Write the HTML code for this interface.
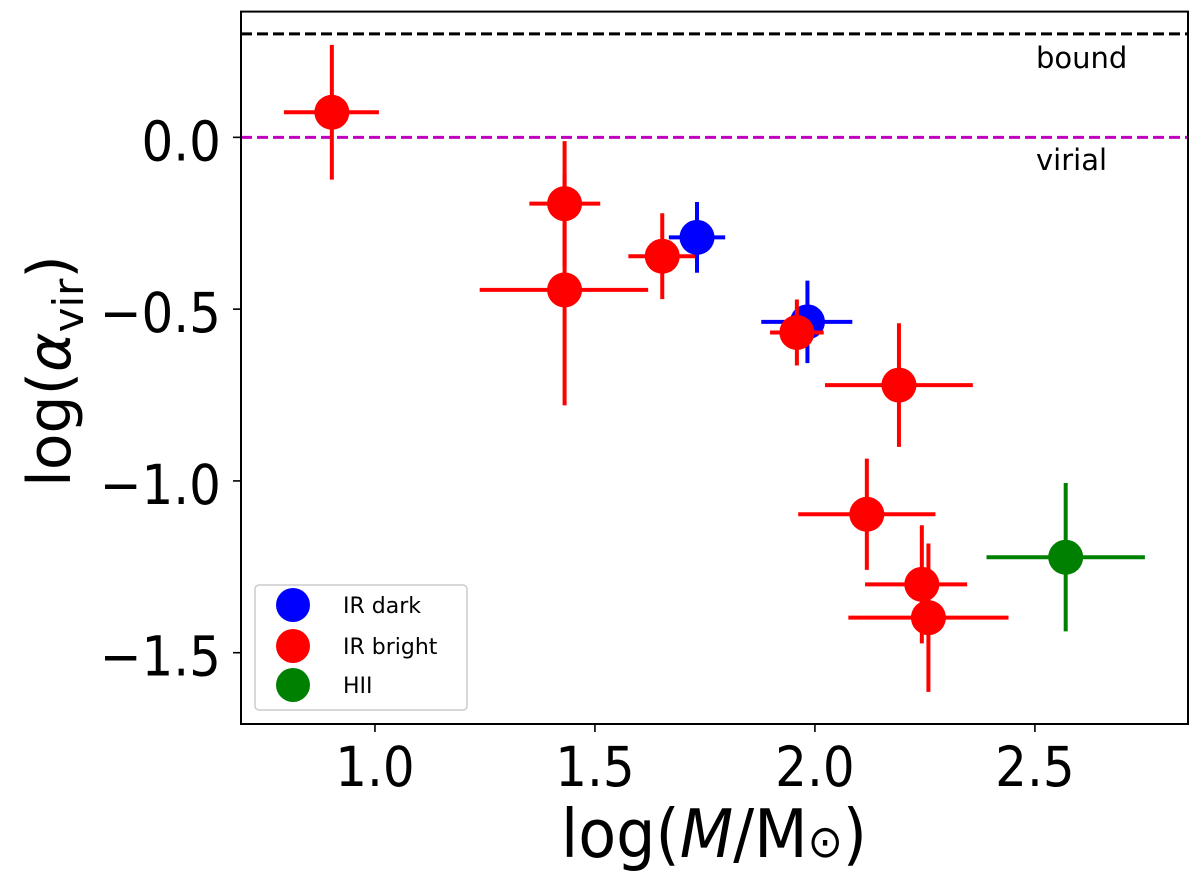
<!DOCTYPE html>
<html><head><meta charset="utf-8"><style>
html,body{margin:0;padding:0;background:#fff;width:1200px;height:876px;overflow:hidden}
svg{display:block;font-family:"DejaVu Sans","Liberation Sans",sans-serif}
</style></head><body>
<svg id="chart" width="1200" height="876" viewBox="0 0 1200 876" xmlns="http://www.w3.org/2000/svg">
<g id="lines"></g>
<g id="marks"></g>
<rect x="241" y="11.6" width="947" height="712.4" fill="none" stroke="#000" stroke-width="2"/>
<g id="axes"></g>
<text x="1036" y="68" font-size="29">bound</text>
<text x="1036" y="170" font-size="29">virial</text>
<text transform="translate(714,857) scale(1,1.08)" font-size="62" text-anchor="middle">log(<tspan font-style="italic">M</tspan>/M<tspan font-size="42">⊙</tspan>)</text>
<text transform="translate(70,371) rotate(-90)" font-size="60" text-anchor="middle">log(<tspan font-style="italic">α</tspan><tspan font-size="42" dy="13">vir</tspan><tspan dy="-13">)</tspan></text>
<g>
<rect x="255" y="585" width="212" height="125" rx="4" fill="#fff" stroke="#ccc" stroke-width="1.5"/>
<circle cx="293" cy="605" r="17" fill="#0000ff"/>
<text x="343" y="613" font-size="22">IR dark</text>
<circle cx="293" cy="646" r="17" fill="#ff0000"/>
<text x="343" y="654" font-size="22">IR bright</text>
<circle cx="293" cy="685" r="17" fill="#008000"/>
<text x="343" y="693" font-size="22">HII</text>
</g>
</svg>
<script>
const xTicks = [1.0, 1.5, 2.0, 2.5];
const xTickLabels = ["1.0", "1.5", "2.0", "2.5"];
const yTicks = [0.0, -0.5, -1.0, -1.5];
const yTickLabels = ["0.0", "\u22120.5", "\u22121.0", "\u22121.5"];
const refValues = [0.301, 0.0];
const refNames = ["bound-line", "virial-line"];
const refColors = ["#000000", "#bf00bf"];
const seriesNames = ["ir-bright","ir-bright","ir-bright","ir-bright","ir-dark","ir-dark","ir-bright","ir-bright","ir-bright","ir-bright","ir-bright","hii"];
const seriesColors = ["#ff0000","#ff0000","#ff0000","#ff0000","#0000ff","#0000ff","#ff0000","#ff0000","#ff0000","#ff0000","#ff0000","#008000"];
const xValues = [0.902, 1.431, 1.431, 1.653, 1.732, 1.983, 1.959, 2.191, 2.118, 2.243, 2.258, 2.570];
const yValues = [0.073, -0.193, -0.444, -0.346, -0.291, -0.537, -0.568, -0.721, -1.097, -1.301, -1.398, -1.222];
const xErrLo = [0.109, 0.080, 0.193, 0.077, 0.064, 0.105, 0.061, 0.168, 0.156, 0.129, 0.182, 0.180];
const xErrHi = [0.107, 0.081, 0.190, 0.078, 0.064, 0.102, 0.061, 0.168, 0.156, 0.103, 0.182, 0.180];
const yErr = [0.196, 0.182, 0.336, 0.125, 0.103, 0.120, 0.096, 0.180, 0.162, 0.172, 0.216, 0.216];
const drawOrder = [0,1,2,3,4,5,6,7,8,9,10,11];

const X0=0.6955, X1=2.848, Y0=-1.7075, Y1=0.366;
const L=241, R=1188, T=11.6, B=724;
function sx(v){return L+(v-X0)/(X1-X0)*(R-L);}
function sy(v){return B-(v-Y0)/(Y1-Y0)*(B-T);}
const NS="http://www.w3.org/2000/svg";
function mk(tag, attrs, parent){const e=document.createElementNS(NS,tag);for(const k in attrs)e.setAttribute(k,attrs[k]);parent.appendChild(e);return e;}
const lines=document.getElementById('lines'), marks=document.getElementById('marks'), axes=document.getElementById('axes');
refValues.forEach((v,i)=>{
  const l=mk('line',{x1:L,x2:R,y1:sy(v),y2:sy(v),stroke:refColors[i],'stroke-width':3,'stroke-dasharray':'11 5'},lines);
  
  
});
drawOrder.forEach(i=>{
  const g=mk('g',{},marks);
  
  
  const c=seriesColors[i], x=xValues[i], y=yValues[i];
  mk('line',{x1:sx(x-xErrLo[i]),x2:sx(x+xErrHi[i]),y1:sy(y),y2:sy(y),stroke:c,'stroke-width':4},g);
  mk('line',{x1:sx(x),x2:sx(x),y1:sy(y+yErr[i]),y2:sy(y-yErr[i]),stroke:c,'stroke-width':4},g);
  mk('circle',{cx:sx(x),cy:sy(y),r:17.5,fill:c},g);
});
xTicks.forEach((v,i)=>{
  const t=mk('line',{x1:sx(v),x2:sx(v),y1:B,y2:B+8,stroke:'#000','stroke-width':1.6},axes);
  
  
  const tx=mk('text',{transform:'translate('+sx(v)+','+(B+62)+') scale(1,1.1)','font-size':50,'text-anchor':'middle'},axes);
  tx.textContent=xTickLabels[i];
  
  
});
yTicks.forEach((v,i)=>{
  const t=mk('line',{x1:L-8,x2:L,y1:sy(v),y2:sy(v),stroke:'#000','stroke-width':1.6},axes);
  
  
  const tx=mk('text',{transform:'translate('+(L-20)+','+(sy(v)+23)+') scale(1,1.1)','font-size':50,'text-anchor':'end'},axes);
  tx.textContent=yTickLabels[i];
  
  
});
</script>
</body></html>
